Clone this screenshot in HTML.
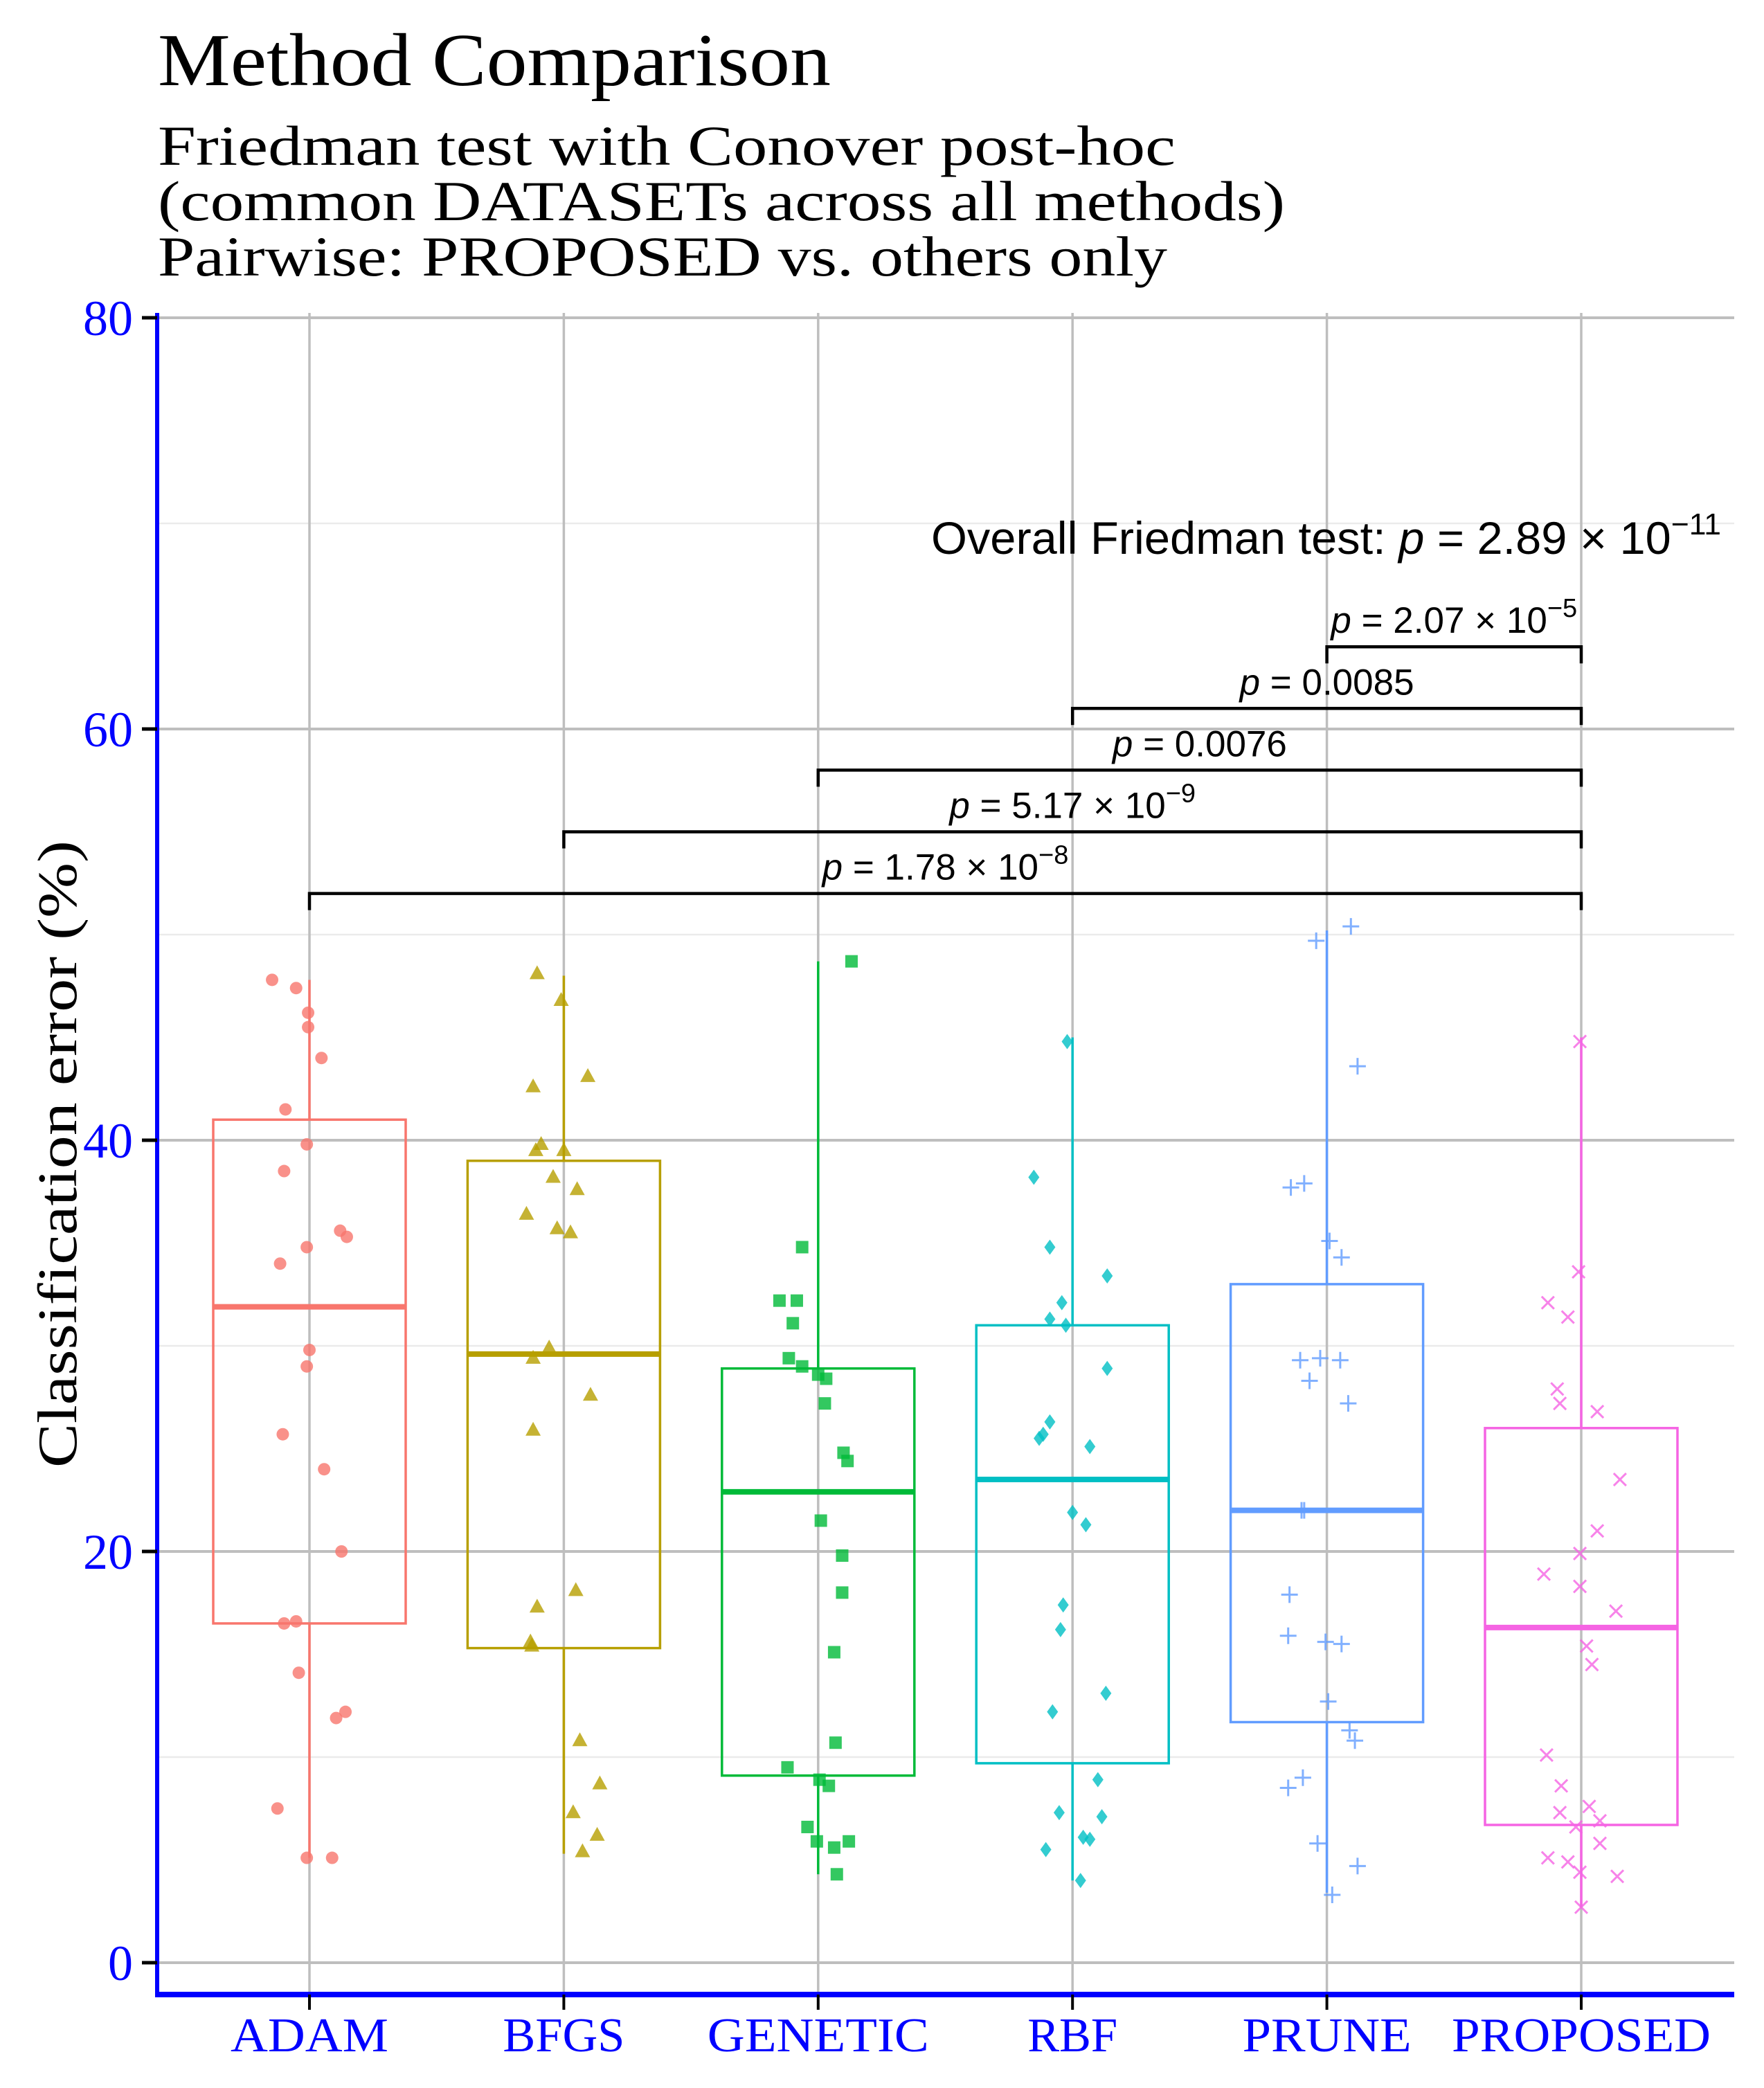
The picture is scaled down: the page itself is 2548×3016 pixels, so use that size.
<!DOCTYPE html>
<html><head><meta charset="utf-8"><style>
html,body{margin:0;padding:0;background:#fff;}
svg{display:block;}
</style></head><body>
<svg id="chart" xmlns="http://www.w3.org/2000/svg" width="2548" height="3016" viewBox="0 0 2548 3016">
<rect width="2548" height="3016" fill="#fff"/>
<text x="228" y="123" font-family="Liberation Serif, serif" font-size="108" textLength="972" lengthAdjust="spacingAndGlyphs">Method Comparison</text>
<text x="228" y="238" font-family="Liberation Serif, serif" font-size="82" textLength="1470" lengthAdjust="spacingAndGlyphs">Friedman test with Conover post-hoc</text>
<text x="228" y="318" font-family="Liberation Serif, serif" font-size="82" textLength="1628" lengthAdjust="spacingAndGlyphs">(common DATASETs across all methods)</text>
<text x="228" y="398" font-family="Liberation Serif, serif" font-size="82" textLength="1458" lengthAdjust="spacingAndGlyphs">Pairwise: PROPOSED vs. others only</text>
<text transform="translate(110,1667) rotate(-90)" text-anchor="middle" font-family="Liberation Serif, serif" font-size="80" textLength="906" lengthAdjust="spacingAndGlyphs">Classification error (%)</text>
<g id="grid"></g><g id="boxes"></g><g id="points"></g><g id="axes"></g><g id="annot"></g>
</svg>
<script>
const categories=["ADAM","BFGS","GENETIC","RBF","PRUNE","PROPOSED"];
const colors=["#F8766D","#B79F00","#00BA38","#00BFC4","#619CFF","#F564E3"];
const shapes=["circle","triangle","square","diamond","plus","cross"];
const boxLow=[5.1,5.3,4.3,4.0,3.4,2.7];
const boxQ1=[16.5,15.3,9.1,9.7,11.7,6.7];
const boxMed=[31.9,29.6,22.9,23.5,22.0,16.3];
const boxQ3=[41.0,39.0,28.9,31.0,33.0,26.0];
const boxHigh=[47.8,48.0,48.7,45.0,50.2,45.0];
const yTicks=[0,20,40,60,80];
const yMinor=[10,30,50,70];
const adamVals=[47.8,47.4,46.2,45.5,44.0,41.5,39.8,38.5,34.8,34.0,35.6,35.3,29.8,29.0,25.7,24.0,20.0,16.5,16.6,14.1,11.9,12.2,7.5,5.1,5.1];
const adamJit=[-28,-10,-1,-1,9,-18,-2,-19,-2,-22,23,28,0,-2,-20,11,24,-19,-10,-8,20,27,-24,-2,17];
const bfgsVals=[48.1,46.8,42.6,43.1,39.5,39.8,39.5,38.2,37.6,36.4,35.7,35.5,29.9,29.4,27.6,25.9,17.3,18.1,15.6,15.4,10.8,8.7,7.3,6.2,5.4];
const bfgsJit=[-20,-2,-23,18,-21,-17,0,-8,10,-28,-5,5,-11,-23,20,-23,-20,9,-25,-24,12,27,7,25,14];
const geneticVals=[48.7,34.8,32.2,32.2,31.1,29.4,29.0,28.6,28.4,27.2,24.8,24.4,21.5,19.8,18.0,15.1,10.7,9.5,8.9,8.6,6.6,5.9,5.6,5.9,4.3];
const geneticJit=[25,-12,-29,-16,-19,-22,-12,0,6,5,19,22,2,18,18,12,13,-23,1,8,-8,-1,12,23,14];
const rbfVals=[44.8,38.2,34.8,33.4,32.1,31.3,31.0,28.9,26.3,25.7,25.5,25.1,21.9,21.3,17.4,16.2,13.1,12.2,8.9,7.3,7.1,6.1,6.0,5.5,4.0];
const rbfJit=[-4,-29,-17,26,-8,-17,-5,26,-17,-22,-25,13,0,10,-7,-9,25,-15,19,-10,22,8,13,-20,6];
const pruneVals=[50.4,49.7,43.6,37.9,37.7,35.1,34.3,29.3,29.4,29.3,28.3,27.2,22.0,22.0,17.9,15.9,15.6,15.5,12.7,11.3,10.8,9.0,8.5,5.8,4.7,3.3];
const pruneJit=[18,-8,23,-17,-27,2,11,-20,-5,10,-13,16,-19,-17,-28,-29,-1,11,1,17,21,-18,-29,-7,23,4];
const proposedVals=[44.8,33.6,32.1,31.4,27.9,27.2,26.8,23.5,21.0,19.9,18.9,18.3,17.1,15.4,14.5,10.1,8.6,7.6,7.3,6.9,6.6,5.8,5.1,4.9,4.4,4.2,2.7];
const proposedJit=[-1,-2,-25,-10,-18,-16,12,29,12,-1,-28,-1,26,4,8,-26,-15,6,-16,14,-4,14,-25,-10,-1,27,0];
const allVals=[adamVals,bfgsVals,geneticVals,rbfVals,pruneVals,proposedVals];
const allJit=[adamJit,bfgsJit,geneticJit,rbfJit,pruneJit,proposedJit];
const bracketFrom=[4,3,2,1,0];
const bracketY=[64,61,58,55,52];
const bracketMant=["2.07",null,null,"5.17","1.78"];
const bracketExp=["−5",null,null,"−9","−8"];
const bracketPlain=[null,"0.0085","0.0076",null,null];

const NS="http://www.w3.org/2000/svg";
const X0=227,X1=2505,YTOP=452,YAX=2881;
function xs(i){return 447+i*367.4;}
function ys(v){return 2835-v*(2835-459)/80;}
function mk(tag,attrs,parent){const e=document.createElementNS(NS,tag);for(const k in attrs)e.setAttribute(k,attrs[k]);parent.appendChild(e);return e;}
const grid=document.getElementById('grid'),boxes=document.getElementById('boxes'),pts=document.getElementById('points'),axes=document.getElementById('axes'),annot=document.getElementById('annot');
yMinor.forEach(v=>{const l=mk('line',{x1:X0,x2:X1,y1:ys(v),y2:ys(v),stroke:'#ebebeb','stroke-width':2.5},grid);

});
yTicks.forEach(v=>{const l=mk('line',{x1:X0,x2:X1,y1:ys(v),y2:ys(v),stroke:'#bebebe','stroke-width':4},grid);

});
categories.forEach((c,i)=>{const l=mk('line',{x1:xs(i),x2:xs(i),y1:YTOP,y2:YAX,stroke:'#bebebe','stroke-width':3.5},grid);

});
const HW=139;
categories.forEach((c,i)=>{
  const g=mk('g',{},boxes);
  
  
  const col=colors[i],x=xs(i);
  mk('line',{x1:x,x2:x,y1:ys(boxHigh[i]),y2:ys(boxQ3[i]),stroke:col,'stroke-width':3.5},g);
  mk('line',{x1:x,x2:x,y1:ys(boxQ1[i]),y2:ys(boxLow[i]),stroke:col,'stroke-width':3.5},g);
  mk('rect',{x:x-HW,y:ys(boxQ3[i]),width:2*HW,height:ys(boxQ1[i])-ys(boxQ3[i]),fill:'#fff','fill-opacity':0,stroke:col,'stroke-width':3.5},g);
  mk('line',{x1:x-HW,x2:x+HW,y1:ys(boxMed[i]),y2:ys(boxMed[i]),stroke:col,'stroke-width':8},g);
});
function shape(s,cx,cy,col,p){
  const r=9;let e;
  if(s==='circle')e=mk('circle',{cx:cx,cy:cy,r:r,fill:col},p);
  else if(s==='triangle')e=mk('polygon',{points:`${cx},${cy-12} ${cx-11},${cy+8} ${cx+11},${cy+8}`,fill:col},p);
  else if(s==='square')e=mk('rect',{x:cx-9,y:cy-9,width:18,height:18,fill:col},p);
  else if(s==='diamond')e=mk('polygon',{points:`${cx},${cy-11} ${cx+8},${cy} ${cx},${cy+11} ${cx-8},${cy}`,fill:col},p);
  else if(s==='plus')e=mk('path',{d:`M${cx-12},${cy}H${cx+12}M${cx},${cy-12}V${cy+12}`,stroke:col,'stroke-width':3,fill:'none'},p);
  else e=mk('path',{d:`M${cx-9},${cy-9}L${cx+9},${cy+9}M${cx-9},${cy+9}L${cx+9},${cy-9}`,stroke:col,'stroke-width':3,fill:'none'},p);
  return e;
}
allVals.forEach((vals,i)=>{vals.forEach((v,j)=>{
  const e=shape(shapes[i],xs(i)+allJit[i][j]*1.927,ys(v),colors[i],pts);
  e.setAttribute('opacity','0.8');
  
  
});});
const la=mk('line',{x1:X0,x2:X0,y1:YTOP,y2:YAX+4,stroke:'#0000ff','stroke-width':6},axes);


const ba=mk('line',{x1:X0-3,x2:X1,y1:YAX,y2:YAX,stroke:'#0000ff','stroke-width':8},axes);


yTicks.forEach(v=>{
  mk('line',{x1:X0-22,x2:X0,y1:ys(v),y2:ys(v),stroke:'#000','stroke-width':5},axes);
  const t=mk('text',{x:192,y:ys(v)+25,'text-anchor':'end','font-family':'Liberation Serif, serif','font-size':72,fill:'#0000ff'},axes);
  t.textContent=v;
  
  
});
const labW=[228,176,320,130,244,374];
categories.forEach((c,i)=>{
  mk('line',{x1:xs(i),x2:xs(i),y1:YAX,y2:YAX+22,stroke:'#000','stroke-width':4},axes);
  const t=mk('text',{x:xs(i),y:2963,'text-anchor':'middle','font-family':'Liberation Serif, serif','font-size':70,fill:'#0000ff',textLength:labW[i],lengthAdjust:'spacingAndGlyphs'},axes);
  t.textContent=c;
  
  
});
const ov=mk('text',{x:1345,y:800,'font-family':'Liberation Sans, sans-serif','font-size':66,textLength:1141,lengthAdjust:'spacingAndGlyphs'},annot);
ov.innerHTML='Overall Friedman test: <tspan font-style="italic">p</tspan> = 2.89 × 10<tspan dy="-28" font-size="44">−11</tspan>';


bracketFrom.forEach((f,k)=>{
  const g=mk('g',{},annot);
  
  
  const x1=xs(f),x2=xs(5),y=ys(bracketY[k]);
  mk('path',{d:`M${x1},${y+24}V${y}H${x2}V${y+24}`,stroke:'#000','stroke-width':4.5,fill:'none'},g);
  const t=mk('text',{x:(x1+x2)/2,y:y-20,'text-anchor':'middle','font-family':'Liberation Sans, sans-serif','font-size':53},g);
  if(bracketPlain[k]) t.innerHTML='<tspan font-style="italic">p</tspan> = '+bracketPlain[k];
  else t.innerHTML='<tspan font-style="italic">p</tspan> = '+bracketMant[k]+' × 10<tspan dy="-23" font-size="38">'+bracketExp[k]+'</tspan>';
});
</script>
</body></html>
